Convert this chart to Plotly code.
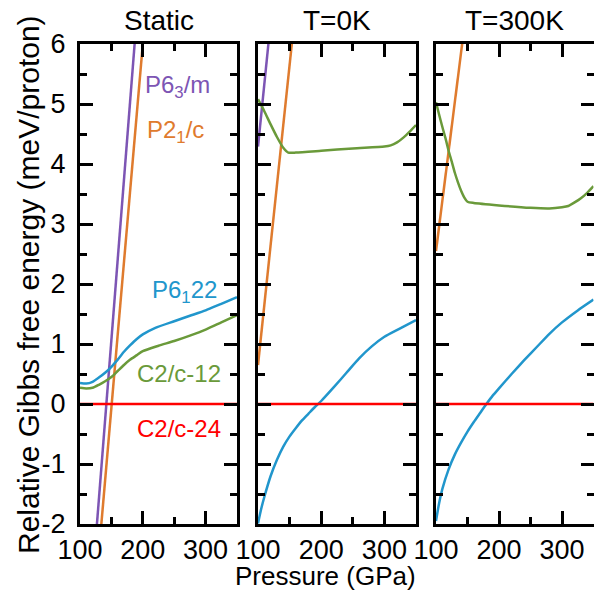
import plotly.graph_objects as go

# ---- data (pressure in GPa, relative Gibbs free energy in meV/proton) ----
# Static
st_p63m_p = [120, 195]
st_p63m_y = [-2.93, 7.07]
st_p21c_p = [125, 210]
st_p21c_y = [-3.09, 7.21]
st_p6122_p = [100, 110, 120, 130, 140, 150, 160, 170, 180, 190, 200, 220, 250, 275, 300, 325, 350]
st_p6122_y = [0.35, 0.34, 0.37, 0.44, 0.52, 0.62, 0.74, 0.87, 0.98, 1.08, 1.16, 1.27, 1.38, 1.47, 1.56, 1.67, 1.78]
st_c12_p = [100, 110, 120, 130, 140, 150, 160, 170, 180, 190, 200, 225, 250, 275, 300, 325, 350]
st_c12_y = [0.27, 0.26, 0.27, 0.32, 0.38, 0.45, 0.55, 0.65, 0.74, 0.81, 0.88, 0.97, 1.05, 1.14, 1.24, 1.36, 1.48]
st_c24_p = [100, 350]
st_c24_y = [0, 0]

# T = 0 K
t0_p63m_p = [100, 120]
t0_p63m_y = [4.29, 6.37]
t0_p21c_p = [100, 160]
t0_p21c_y = [0.65, 6.65]
t0_p6122_p = [100, 105, 110, 120, 130, 140, 150, 160, 170, 180, 190, 200, 220, 240, 260, 280, 300, 325, 350]
t0_p6122_y = [-1.99, -1.75, -1.55, -1.20, -0.93, -0.71, -0.54, -0.40, -0.27, -0.16, -0.05, 0.05, 0.28, 0.52, 0.76, 0.96, 1.12, 1.26, 1.40]
t0_c12_p = [100, 110, 120, 130, 140, 148, 160, 200, 250, 300, 310, 320, 330, 340, 350]
t0_c12_y = [5.08, 4.88, 4.66, 4.45, 4.27, 4.19, 4.19, 4.22, 4.26, 4.29, 4.31, 4.36, 4.44, 4.54, 4.65]
t0_c24_p = [100, 350]
t0_c24_y = [0, 0]

# T = 300 K
t300_p21c_p = [100, 145]
t300_p21c_y = [2.55, 6.29]
t300_p6122_p = [100, 105, 110, 120, 130, 140, 150, 160, 170, 180, 190, 200, 220, 240, 260, 280, 300, 325, 350]
t300_p6122_y = [-1.95, -1.65, -1.42, -1.09, -0.84, -0.64, -0.46, -0.30, -0.15, 0.0, 0.14, 0.26, 0.50, 0.73, 0.95, 1.17, 1.36, 1.56, 1.74]
t300_c12_p = [100, 105, 110, 115, 120, 125, 130, 135, 140, 145, 150, 160, 200, 250, 280, 300, 310, 320, 330, 340, 350]
t300_c12_y = [5.03, 4.82, 4.62, 4.43, 4.22, 4.04, 3.85, 3.69, 3.55, 3.44, 3.37, 3.35, 3.31, 3.27, 3.26, 3.28, 3.30, 3.36, 3.43, 3.52, 3.63]
t300_c24_p = [100, 350]
t300_c24_y = [0, 0]

panel_titles = ["Static", "T=0K", "T=300K"]
x_tickvals = [100, 200, 300]
x_ticktext = ["100", "200", "300"]
y_tickvals = [-2, -1, 0, 1, 2, 3, 4, 5, 6]
y_ticktext = ["-2", "-1", "0", "1", "2", "3", "4", "5", "6"]

# ---- styling ----
W, H = 594, 591
FONT = "Arial, Liberation Sans, Helvetica, sans-serif"
C_PURPLE = "#7d55b4"
C_ORANGE = "#df7b2e"
C_BLUE = "#2196cc"
C_GREEN = "#6a9a3a"
C_RED = "#ff0000"
LW = 2.5


def px_x(v):
    return v / W


def px_y(v):
    return 1 - v / H


x_domains = [(80, 237), (258, 416), (436, 593.5)]
y_domain = [px_y(524), px_y(44)]

fig = go.Figure()

panels = [
    [(st_p63m_p, st_p63m_y, C_PURPLE), (st_p21c_p, st_p21c_y, C_ORANGE),
     (st_p6122_p, st_p6122_y, C_BLUE), (st_c12_p, st_c12_y, C_GREEN),
     (st_c24_p, st_c24_y, C_RED)],
    [(t0_p63m_p, t0_p63m_y, C_PURPLE), (t0_p21c_p, t0_p21c_y, C_ORANGE),
     (t0_c12_p, t0_c12_y, C_GREEN), (t0_p6122_p, t0_p6122_y, C_BLUE),
     (t0_c24_p, t0_c24_y, C_RED)],
    [(t300_p21c_p, t300_p21c_y, C_ORANGE), (t300_c12_p, t300_c12_y, C_GREEN),
     (t300_p6122_p, t300_p6122_y, C_BLUE), (t300_c24_p, t300_c24_y, C_RED)],
]

for i, series in enumerate(panels):
    xa = "x" if i == 0 else f"x{i + 1}"
    ya = "y" if i == 0 else f"y{i + 1}"
    for xs, ys, col in series:
        fig.add_trace(go.Scatter(
            x=xs, y=ys, mode="lines", xaxis=xa, yaxis=ya,
            line=dict(color=col, width=LW, shape="spline", smoothing=0.6),
            showlegend=False, hoverinfo="skip",
        ))

axis_common = dict(
    showline=True, linecolor="black", linewidth=3, mirror="allticks",
    ticks="inside", ticklen=13, tickwidth=3, tickcolor="black",
    showgrid=False, zeroline=False, automargin=False,
    tickfont=dict(family=FONT, size=27, color="black"),
)

layout = dict(
    width=W, height=H, margin=dict(l=0, r=0, t=0, b=0, pad=0, autoexpand=False),
    paper_bgcolor="white", plot_bgcolor="white",
    font=dict(family=FONT, color="black"),
)

for i, (a, b) in enumerate(x_domains):
    xk = "xaxis" if i == 0 else f"xaxis{i + 1}"
    yk = "yaxis" if i == 0 else f"yaxis{i + 1}"
    layout[xk] = dict(
        axis_common, domain=[px_x(a), px_x(b)], range=[100, 350],
        anchor="y" if i == 0 else f"y{i + 1}",
        tickmode="array", tickvals=x_tickvals, ticktext=x_ticktext,
        minor=dict(tickmode="array", tickvals=[150, 250], ticklen=7,
                   tickwidth=3, tickcolor="black", ticks="inside"),
        ticklabelstandoff=0,
    )
    layout[yk] = dict(
        axis_common, domain=y_domain, range=[-2, 6],
        anchor="x" if i == 0 else f"x{i + 1}",
        tickmode="array", tickvals=y_tickvals, ticktext=y_ticktext,
        showticklabels=(i == 0),
        minor=dict(tickmode="array", tickvals=[-1.5, -0.5, 0.5, 1.5, 2.5, 3.5, 4.5, 5.5],
                   ticklen=7, tickwidth=3, tickcolor="black", ticks="inside"),
        ticklabelstandoff=6,
    )

fig.update_layout(**layout)

annotations = []
# panel titles
for (a, b), t in zip(x_domains, panel_titles):
    annotations.append(dict(
        text=t, xref="paper", yref="paper", x=px_x((a + b) / 2), y=px_y(21),
        xanchor="center", yanchor="middle", showarrow=False,
        font=dict(family=FONT, size=28, color="black"),
    ))
# axis titles
annotations.append(dict(
    text="Pressure (GPa)", xref="paper", yref="paper", x=px_x(325), y=px_y(576),
    xanchor="center", yanchor="middle", showarrow=False,
    font=dict(family=FONT, size=26, color="black"),
))
annotations.append(dict(
    text="Relative Gibbs free energy (meV/proton)", xref="paper", yref="paper",
    x=px_x(28), y=px_y(285), textangle=-90,
    xanchor="center", yanchor="middle", showarrow=False,
    font=dict(family=FONT, size=30, color="black"),
))
# phase labels in the static panel
labels = [
    ("P6<sub>3</sub>/m", 200, 5.30, C_PURPLE),
    ("P2<sub>1</sub>/c", 203, 4.54, C_ORANGE),
    ("P6<sub>1</sub>22", 211, 1.87, C_BLUE),
    ("C2/c-12", 187, 0.51, C_GREEN),
    ("C2/c-24", 187, -0.41, C_RED),
]
for txt, lx, ly, col in labels:
    annotations.append(dict(
        text=txt, xref="x", yref="y", x=lx, y=ly,
        xanchor="left", yanchor="middle", showarrow=False,
        font=dict(family=FONT, size=24, color=col),
    ))

fig.update_layout(annotations=annotations)

fig.write_html("out.html")
